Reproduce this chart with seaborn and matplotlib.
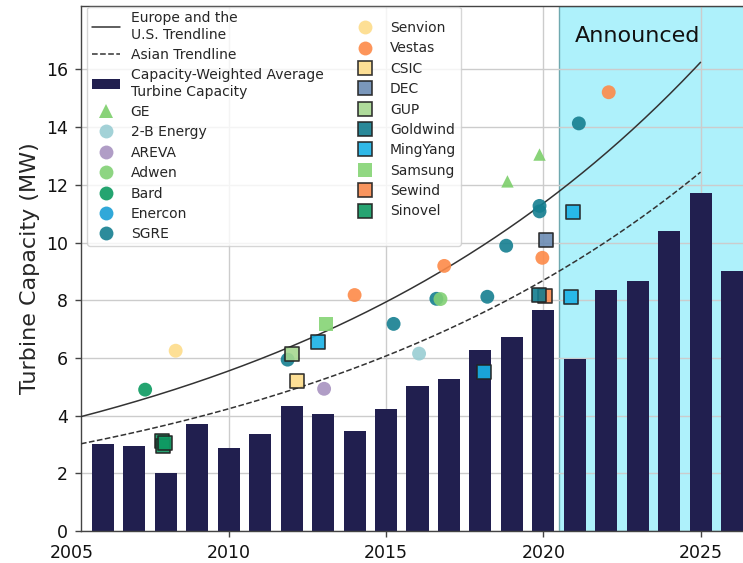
import numpy as np
import pandas as pd
import matplotlib
matplotlib.use("Agg")
import matplotlib.pyplot as plt
from matplotlib.lines import Line2D
from matplotlib.patches import Patch
import seaborn as sns

# ---------------- data ----------------
years = [2006, 2007, 2008, 2009, 2010, 2011, 2012, 2013, 2014, 2015, 2016,
         2017, 2018, 2019, 2020, 2021, 2022, 2023, 2024, 2025, 2026]
avg_capacity = [3.02, 2.93, 2.01, 3.71, 2.87, 3.36, 4.35, 4.07, 3.47, 4.23, 5.01,
                5.28, 6.28, 6.72, 7.67, 5.98, 8.34, 8.68, 10.39, 11.73, 9.02]

# exponential trendlines y = exp(a + b*(year-2015)), coefficients
eu_trend_a, eu_trend_b = 2.072, 0.0716
asia_trend_a, asia_trend_b = 1.803, 0.0718
trend_start, trend_end = 2005.3, 2025.0

ge_x = [2018.86, 2019.88];            ge_y = [12.12, 13.05]
twob_x = [2016.05];                   twob_y = [6.15]
areva_x = [2013.03];                  areva_y = [4.93]
adwen_x = [2016.73];                  adwen_y = [8.04]
bard_x = [2007.34];                   bard_y = [4.90]
enercon_x = [];                       enercon_y = []
sgre_x = [2011.87, 2015.24, 2016.60, 2018.22, 2018.82, 2019.88, 2019.88, 2021.13]
sgre_y = [5.94, 7.18, 8.05, 8.12, 9.89, 11.27, 11.08, 14.13]
senvion_x = [2008.31];                senvion_y = [6.25]
vestas_x = [2014.00, 2016.85, 2019.97, 2022.08]
vestas_y = [8.18, 9.19, 9.47, 15.21]
csic_x = [2012.17];                   csic_y = [5.21]
dec_x = [2020.07];                    dec_y = [10.08]
gup_x = [2012.00];                    gup_y = [6.14]
goldwind_x = [2019.86];               goldwind_y = [8.19]
mingyang_x = [2012.84, 2018.10, 2020.87, 2020.96]
mingyang_y = [6.54, 5.51, 8.12, 11.05]
samsung_x = [2013.10];                samsung_y = [7.18]
sewind_x = [2020.06];                 sewind_y = [8.13]
sinovel_x = [2007.88, 2007.90, 2007.98]
sinovel_y = [3.12, 2.93, 3.05]

announced_start = 2020.5

# ---------------- styling ----------------
sns.set_theme(style="ticks")
plt.rcParams['font.family'] = ['DejaVu Sans']

BAR_COLOR = '#211f4f'
TREND_COLOR = '#333333'

# name, xs, ys, color, marker, edgecolor
makers = [
    ("GE", ge_x, ge_y, '#7ccf6b', '^', 'none'),
    ("2-B Energy", twob_x, twob_y, '#99cdd3', 'o', 'none'),
    ("AREVA", areva_x, areva_y, '#a893c0', 'o', 'none'),
    ("Adwen", adwen_x, adwen_y, '#82d175', 'o', 'none'),
    ("Bard", bard_x, bard_y, '#0c9a60', 'o', 'none'),
    ("Enercon", enercon_x, enercon_y, '#1a9fd5', 'o', 'none'),
    ("SGRE", sgre_x, sgre_y, '#157f90', 'o', 'none'),
    ("Senvion", senvion_x, senvion_y, '#fddc8a', 'o', 'none'),
    ("Vestas", vestas_x, vestas_y, '#fd8a48', 'o', 'none'),
    ("CSIC", csic_x, csic_y, '#fddc8a', 's', '#222222'),
    ("DEC", dec_x, dec_y, '#6c8cb4', 's', '#222222'),
    ("GUP", gup_x, gup_y, '#a6d890', 's', '#222222'),
    ("Goldwind", goldwind_x, goldwind_y, '#137c8e', 's', '#222222'),
    ("MingYang", mingyang_x, mingyang_y, '#19b2e6', 's', '#222222'),
    ("Samsung", samsung_x, samsung_y, '#85d475', 's', 'none'),
    ("Sewind", sewind_x, sewind_y, '#f88a4e', 's', '#222222'),
    ("Sinovel", sinovel_x, sinovel_y, '#0f9a63', 's', '#222222'),
]
plot_order = ["SGRE", "GE", "2-B Energy", "AREVA", "Adwen", "Bard", "Enercon",
              "Senvion", "Vestas", "CSIC", "DEC", "GUP", "Sewind", "Goldwind",
              "MingYang", "Samsung", "Sinovel"]

fig = plt.figure(figsize=(7.43, 5.63), dpi=100)
ax = fig.add_axes([81 / 743, 32 / 563, 662 / 743, 525 / 563])

x_left, x_right = 2005.3, 2026.35
ax.axvspan(announced_start, x_right + 1, facecolor='#aef1fb', edgecolor='#6fa9b0',
           linewidth=1.0, zorder=0.1)

bar_df = pd.DataFrame({'year': years, 'capacity': avg_capacity})
sns.barplot(data=bar_df, x='year', y='capacity', native_scale=True, width=0.7,
            color=BAR_COLOR, saturation=1, errorbar=None, linewidth=0,
            ax=ax, zorder=2)

tx = np.linspace(trend_start, trend_end, 300)
sns.lineplot(x=tx, y=np.exp(eu_trend_a + eu_trend_b * (tx - 2015)), color=TREND_COLOR,
             linewidth=1.1, ax=ax, zorder=3, estimator=None, sort=False)
sns.lineplot(x=tx, y=np.exp(asia_trend_a + asia_trend_b * (tx - 2015)), color=TREND_COLOR,
             linewidth=1.1, linestyle='--', ax=ax, zorder=3, estimator=None, sort=False)

lookup = {m[0]: m for m in makers}
for name in plot_order:
    _, xs, ys, col, mk, ec = lookup[name]
    if not xs:
        continue
    size = 80 if mk == '^' else 100
    sns.scatterplot(x=xs, y=ys, color=col, marker=mk, s=size,
                    edgecolor=ec, linewidth=1.2 if ec != 'none' else 0,
                    alpha=0.9, ax=ax, zorder=4, legend=False)

# axes
ax.set_xlim(x_left, x_right)
ax.set_ylim(0, 18.2)
ax.set_xticks([2010, 2015, 2020, 2025])
ax.set_yticks(list(range(0, 17, 2)))
ax.set_xlabel('')
ax.set_ylabel('Turbine Capacity (MW)', fontsize=16, labelpad=4)
ax.tick_params(labelsize=12.5, length=4.5, width=1, color='#444444', pad=5,
               labelcolor='#111111')
ax.annotate('2005', xy=(2005, 0), xycoords='data', xytext=(0, -9.5),
            textcoords='offset points', ha='center', va='top', fontsize=12.5,
            color='#111111', annotation_clip=False)
ax.grid(True, color='#cccccc', linewidth=1.0)
ax.set_axisbelow(True)
for side in ['left', 'bottom', 'top']:
    ax.spines[side].set_color('#444444')
    ax.spines[side].set_linewidth(1.0)
ax.spines['right'].set_visible(False)

ax.text(2021.0, 16.95, 'Announced', fontsize=16, va='baseline', ha='left',
        color='#111111', zorder=5)

# legend
handles = [
    Line2D([], [], color=TREND_COLOR, linewidth=1.1),
    Line2D([], [], color=TREND_COLOR, linewidth=1.1, linestyle='--'),
    Patch(facecolor=BAR_COLOR, edgecolor='none'),
]
labels = ["Europe and the\nU.S. Trendline", "Asian Trendline",
          "Capacity-Weighted Average\nTurbine Capacity"]
for name, xs, ys, col, mk, ec in makers:
    handles.append(Line2D([], [], linestyle='none', marker=mk, markersize=10,
                          markerfacecolor=col,
                          markeredgecolor=ec if ec != 'none' else col,
                          markeredgewidth=1.2 if ec != 'none' else 0, alpha=0.9))
    labels.append(name)

leg = ax.legend(handles, labels, ncol=2, loc='upper left',
                bbox_to_anchor=(0.009, 0.999), borderaxespad=0, fontsize=10,
                labelspacing=0.46, frameon=True, framealpha=0.8,
                edgecolor='#cccccc', fancybox=True, borderpad=0.35)
leg.set_zorder(6)

fig.savefig('out.png', dpi=100)
